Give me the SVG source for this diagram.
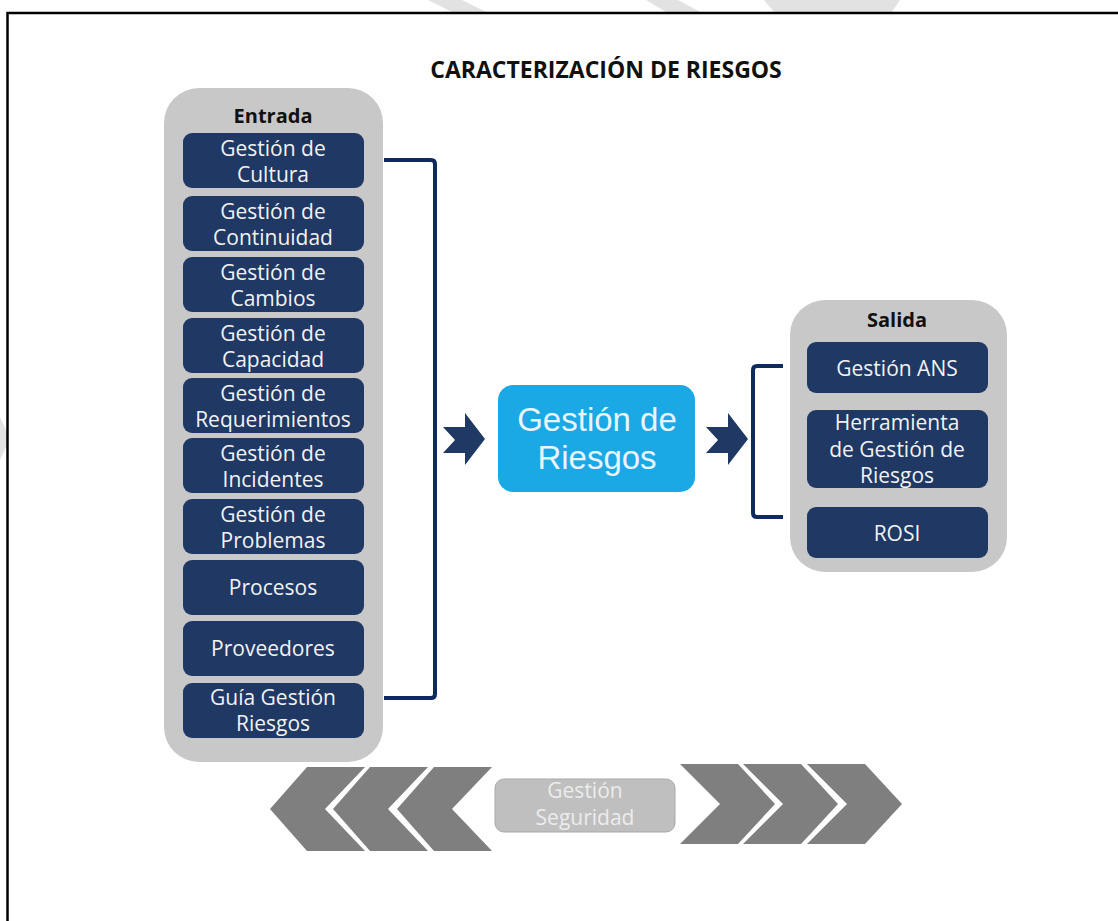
<svg xmlns="http://www.w3.org/2000/svg" width="1118" height="921" viewBox="0 0 1118 921">
<style>
.box{fill:#1f3864;}
.bt{font-family:"Open Sans","Liberation Sans",sans-serif;font-size:21px;fill:#f2f2f2;text-anchor:middle;}
.hd{font-family:"Open Sans","Liberation Sans",sans-serif;font-size:20px;font-weight:bold;fill:#111111;text-anchor:middle;}
.big{font-family:"Liberation Sans",Arial,sans-serif;font-size:33px;fill:#e8f5fc;text-anchor:middle;}
.cont{fill:#c8c8c8;}
.br{fill:none;stroke:#0f2a5f;stroke-width:4;stroke-linejoin:round;}
.arr{fill:#1f3864;}
.chev{fill:#7f7f7f;}
.wm{fill:#e2e2e2;}
</style>
<rect width="1118" height="921" fill="#ffffff"/>
<g id="watermark">
<polygon class="wm" points="428,0 462,0 486,12 452,12"/>
<polygon class="wm" points="646,0 678,0 700,12 666,12"/>
<polygon class="wm" points="764,0 900,0 892,12 774,12"/>
<polygon class="wm" points="0,417 7,432 7,445 0,460"/>
</g>
<path d="M7.5,921 V13 H1118" fill="none" stroke="#000000" stroke-width="2.5"/>
<text x="606" y="78" class="hd" style="font-size:23px">CARACTERIZACIÓN DE RIESGOS</text>

<g id="entrada">
<rect class="cont" x="164" y="88" width="219" height="674" rx="35"/>
<text class="hd" x="273" y="123">Entrada</text>
</g>
<g id="in-cultura"><rect class="box" x="183" y="133" width="181" height="55" rx="9"/><text class="bt" x="273" y="156">Gestión de</text><text class="bt" x="273" y="182">Cultura</text></g>
<g id="in-continuidad"><rect class="box" x="183" y="196" width="181" height="55" rx="9"/><text class="bt" x="273" y="219">Gestión de</text><text class="bt" x="273" y="245">Continuidad</text></g>
<g id="in-cambios"><rect class="box" x="183" y="257" width="181" height="55" rx="9"/><text class="bt" x="273" y="280">Gestión de</text><text class="bt" x="273" y="306">Cambios</text></g>
<g id="in-capacidad"><rect class="box" x="183" y="318" width="181" height="55" rx="9"/><text class="bt" x="273" y="341">Gestión de</text><text class="bt" x="273" y="367">Capacidad</text></g>
<g id="in-requerimientos"><rect class="box" x="183" y="378" width="181" height="55" rx="9"/><text class="bt" x="273" y="401">Gestión de</text><text class="bt" x="273" y="427">Requerimientos</text></g>
<g id="in-incidentes"><rect class="box" x="183" y="438" width="181" height="55" rx="9"/><text class="bt" x="273" y="461">Gestión de</text><text class="bt" x="273" y="487">Incidentes</text></g>
<g id="in-problemas"><rect class="box" x="183" y="499" width="181" height="55" rx="9"/><text class="bt" x="273" y="522">Gestión de</text><text class="bt" x="273" y="548">Problemas</text></g>
<g id="in-procesos"><rect class="box" x="183" y="560" width="181" height="55" rx="9"/><text class="bt" x="273" y="595">Procesos</text></g>
<g id="in-proveedores"><rect class="box" x="183" y="621" width="181" height="55" rx="9"/><text class="bt" x="273" y="656">Proveedores</text></g>
<g id="in-guia"><rect class="box" x="183" y="683" width="181" height="55" rx="9"/><text class="bt" x="273" y="705">Guía Gestión</text><text class="bt" x="273" y="731">Riesgos</text></g>

<g id="riesgos">
<rect x="498" y="385" width="197" height="107" rx="15" fill="#1ba9e6"/>
<text class="big" x="597" y="431">Gestión de</text>
<text class="big" x="597" y="469">Riesgos</text>
</g>

<g id="salida">
<rect class="cont" x="790" y="300" width="217" height="272" rx="35"/>
<text class="hd" x="897" y="327">Salida</text>
</g>
<g id="out-ans"><rect class="box" x="807" y="342" width="181" height="51" rx="9"/><text class="bt" x="897" y="376">Gestión ANS</text></g>
<g id="out-herramienta"><rect class="box" x="807" y="410" width="181" height="78" rx="9"/><text class="bt" x="897" y="430">Herramienta</text><text class="bt" x="897" y="457">de Gestión de</text><text class="bt" x="897" y="483">Riesgos</text></g>
<g id="out-rosi"><rect class="box" x="807" y="507" width="181" height="51" rx="9"/><text class="bt" x="897" y="541">ROSI</text></g>

<g id="connectors">
<path class="br" d="M384,160 H431 Q435,160 435,164 V694 Q435,698 431,698 H384"/>
<polygon class="arr" points="443,427 465,427 465,413 485,439 465,465 465,453 443,453 455,440"/>
<polygon class="arr" points="706,427 728,427 728,413 748,439 728,465 728,453 706,453 718,440"/>
<path class="br" d="M783,366 H757 Q753,366 753,370 V513 Q753,517 757,517 H783"/>
</g>

<g id="seguridad">
<polygon class="chev" points="365,767 307,767 270,809 307,851 365,851 325,809"/>
<polygon class="chev" points="428,767 370,767 333,809 370,851 428,851 388,809"/>
<polygon class="chev" points="492,767 434,767 397,809 434,851 492,851 452,809"/>
<polygon class="chev" points="680,764 738,764 775,804 738,844 680,844 720,804"/>
<polygon class="chev" points="743,764 801,764 838,804 801,844 743,844 783,804"/>
<polygon class="chev" points="807,764 865,764 902,804 865,844 807,844 847,804"/>
<rect x="495" y="779" width="180" height="53" rx="9" fill="#bfbfbf" stroke="#a9a9a9" stroke-width="1"/>
<text class="bt" x="585" y="798" style="fill:#ececec">Gestión</text>
<text class="bt" x="585" y="825" style="fill:#ececec">Seguridad</text>
</g>
</svg>
